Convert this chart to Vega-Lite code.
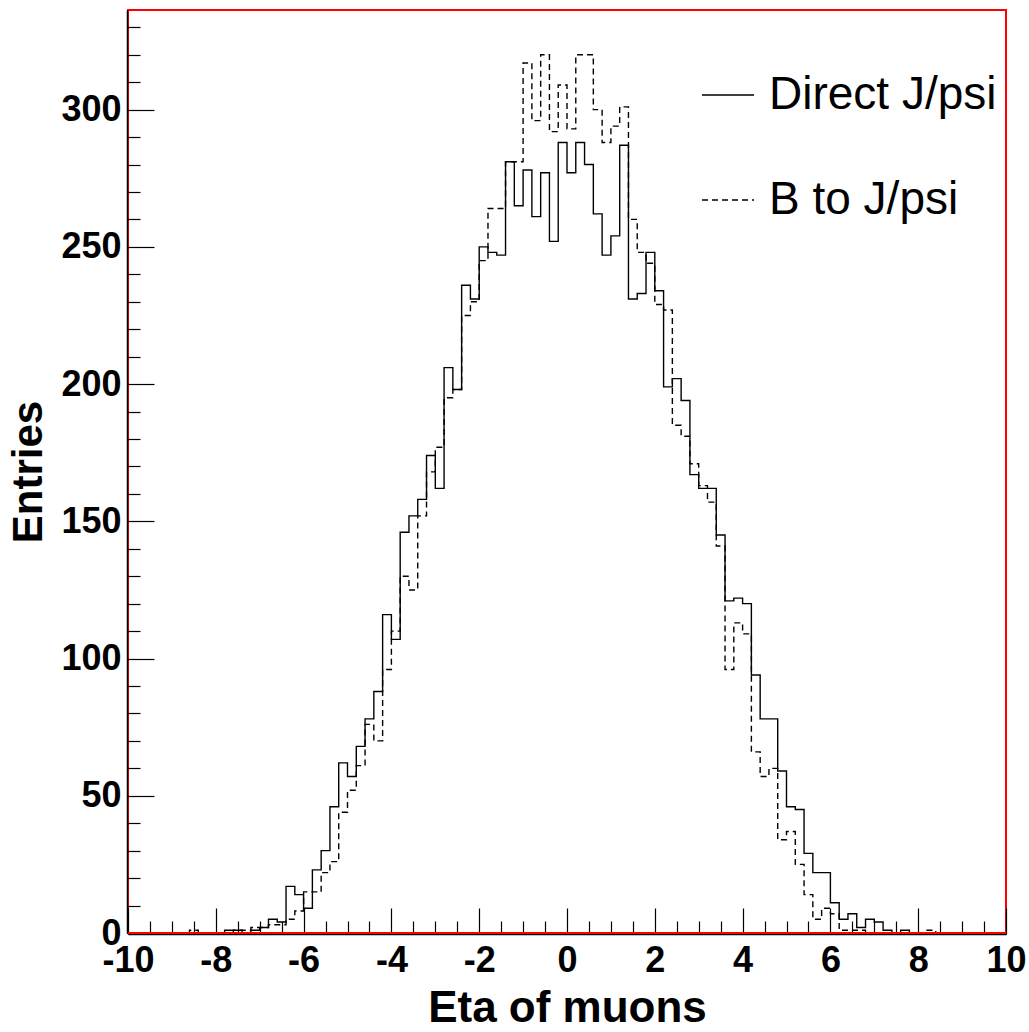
{
  "$schema": "https://vega.github.io/schema/vega-lite/v6.json",
  "width": 878,
  "height": 923,
  "autosize": {"type": "none"},
  "padding": {"left": 128, "top": 10, "right": 23, "bottom": 99},
  "background": "white",
  "data": {
    "values": [
      {"eta": -10.0, "d": 0, "b": 0}, {"eta": -9.8, "d": 0, "b": 0}, {"eta": -9.6, "d": 0, "b": 0},
      {"eta": -9.4, "d": 0, "b": 0}, {"eta": -9.2, "d": 0, "b": 0}, {"eta": -9.0, "d": 0, "b": 0},
      {"eta": -8.8, "d": 0, "b": 0}, {"eta": -8.6, "d": 0, "b": 1}, {"eta": -8.4, "d": 0, "b": 0},
      {"eta": -8.2, "d": 0, "b": 0}, {"eta": -8.0, "d": 0, "b": 0}, {"eta": -7.8, "d": 1, "b": 0},
      {"eta": -7.6, "d": 1, "b": 1}, {"eta": -7.4, "d": 0, "b": 1}, {"eta": -7.2, "d": 1, "b": 2},
      {"eta": -7.0, "d": 2, "b": 2}, {"eta": -6.8, "d": 5, "b": 3}, {"eta": -6.6, "d": 4, "b": 3},
      {"eta": -6.4, "d": 17, "b": 5}, {"eta": -6.2, "d": 14, "b": 8}, {"eta": -6.0, "d": 9, "b": 15},
      {"eta": -5.8, "d": 23, "b": 15}, {"eta": -5.6, "d": 30, "b": 22}, {"eta": -5.4, "d": 46, "b": 26},
      {"eta": -5.2, "d": 62, "b": 44}, {"eta": -5.0, "d": 57, "b": 52}, {"eta": -4.8, "d": 68, "b": 61},
      {"eta": -4.6, "d": 78, "b": 76}, {"eta": -4.4, "d": 88, "b": 70}, {"eta": -4.2, "d": 116, "b": 96},
      {"eta": -4.0, "d": 107, "b": 110}, {"eta": -3.8, "d": 146, "b": 130}, {"eta": -3.6, "d": 152, "b": 125},
      {"eta": -3.4, "d": 158, "b": 152}, {"eta": -3.2, "d": 174, "b": 168}, {"eta": -3.0, "d": 162, "b": 177},
      {"eta": -2.8, "d": 206, "b": 195}, {"eta": -2.6, "d": 198, "b": 198}, {"eta": -2.4, "d": 236, "b": 225},
      {"eta": -2.2, "d": 231, "b": 230}, {"eta": -2.0, "d": 250, "b": 245}, {"eta": -1.8, "d": 248, "b": 264},
      {"eta": -1.6, "d": 247, "b": 264}, {"eta": -1.4, "d": 281, "b": 281}, {"eta": -1.2, "d": 265, "b": 281},
      {"eta": -1.0, "d": 278, "b": 317}, {"eta": -0.8, "d": 261, "b": 296}, {"eta": -0.6, "d": 277, "b": 320},
      {"eta": -0.4, "d": 252, "b": 292}, {"eta": -0.2, "d": 288, "b": 309}, {"eta": 0.0, "d": 277, "b": 293},
      {"eta": 0.2, "d": 288, "b": 320}, {"eta": 0.4, "d": 280, "b": 320}, {"eta": 0.6, "d": 262, "b": 300},
      {"eta": 0.8, "d": 247, "b": 288}, {"eta": 1.0, "d": 254, "b": 294}, {"eta": 1.2, "d": 287, "b": 301},
      {"eta": 1.4, "d": 231, "b": 260}, {"eta": 1.6, "d": 233, "b": 248}, {"eta": 1.8, "d": 248, "b": 244},
      {"eta": 2.0, "d": 234, "b": 229}, {"eta": 2.2, "d": 199, "b": 227}, {"eta": 2.4, "d": 202, "b": 185},
      {"eta": 2.6, "d": 194, "b": 181}, {"eta": 2.8, "d": 167, "b": 171}, {"eta": 3.0, "d": 162, "b": 163},
      {"eta": 3.2, "d": 162, "b": 157}, {"eta": 3.4, "d": 145, "b": 141}, {"eta": 3.6, "d": 121, "b": 96},
      {"eta": 3.8, "d": 122, "b": 113}, {"eta": 4.0, "d": 120, "b": 109}, {"eta": 4.2, "d": 94, "b": 66},
      {"eta": 4.4, "d": 78, "b": 57}, {"eta": 4.6, "d": 78, "b": 60}, {"eta": 4.8, "d": 59, "b": 34},
      {"eta": 5.0, "d": 46, "b": 37}, {"eta": 5.2, "d": 45, "b": 25}, {"eta": 5.4, "d": 29, "b": 14},
      {"eta": 5.6, "d": 22, "b": 5}, {"eta": 5.8, "d": 22, "b": 9}, {"eta": 6.0, "d": 11, "b": 7},
      {"eta": 6.2, "d": 5, "b": 1}, {"eta": 6.4, "d": 7, "b": 1}, {"eta": 6.6, "d": 2, "b": 1},
      {"eta": 6.8, "d": 5, "b": 0}, {"eta": 7.0, "d": 4, "b": 0}, {"eta": 7.2, "d": 1, "b": 0},
      {"eta": 7.4, "d": 0, "b": 0}, {"eta": 7.6, "d": 1, "b": 0}, {"eta": 7.8, "d": 0, "b": 0},
      {"eta": 8.0, "d": 0, "b": 0}, {"eta": 8.2, "d": 0, "b": 1}, {"eta": 8.4, "d": 0, "b": 0},
      {"eta": 8.6, "d": 0, "b": 0}, {"eta": 8.8, "d": 0, "b": 0}, {"eta": 9.0, "d": 0, "b": 0},
      {"eta": 9.2, "d": 0, "b": 0}, {"eta": 9.4, "d": 0, "b": 0}, {"eta": 9.6, "d": 0, "b": 0},
      {"eta": 9.8, "d": 0, "b": 0}, {"eta": 10.0, "d": 0, "b": 0}
    ]
  },
  "layer": [
    {
      "transform": [{"fold": ["d", "b"], "as": ["series", "n"]}],
      "mark": {"type": "line", "interpolate": "step-after", "color": "black", "strokeWidth": 1.4},
      "encoding": {
        "x": {
          "field": "eta", "type": "quantitative",
          "scale": {"domain": [-10, 10], "nice": false, "zero": false},
          "axis": {
            "orient": "bottom", "offset": 1,
            "values": [-10, -8, -6, -4, -2, 0, 2, 4, 6, 8, 10],
            "labelExpr": "toString(datum.value)",
            "tickSize": -26, "labelPadding": 35, "labelFlush": false, "labelOverlap": false,
            "title": "Eta of muons", "titlePadding": 8, "titleFontSize": 44
          }
        },
        "y": {
          "field": "n", "type": "quantitative",
          "scale": {"domain": [0, 336.3], "nice": false},
          "axis": {
            "orient": "left", "offset": 1,
            "values": [0, 50, 100, 150, 200, 250, 300],
            "tickSize": -27, "labelPadding": 33, "labelOverlap": false,
            "title": "Entries", "titlePadding": 10
          }
        },
        "strokeDash": {
          "field": "series", "type": "nominal",
          "scale": {"domain": ["d", "b"], "range": [[1, 0], [6, 4]]},
          "legend": {
            "orient": "none", "legendX": 573, "legendY": 58, "title": null,
            "symbolType": "stroke", "symbolSize": 2704, "symbolStrokeWidth": 1.4,
            "symbolStrokeColor": "black", "labelFont": "Liberation Sans",
            "labelFontSize": 46, "labelFontWeight": "normal", "labelColor": "black",
            "labelOffset": 14, "labelLimit": 500, "rowPadding": 55, "padding": 0,
            "labelExpr": "datum.value == 'd' ? 'Direct J/psi' : 'B to J/psi'"
          }
        }
      }
    },
    {
      "mark": {"type": "rule", "color": "#ff0000", "strokeWidth": 2},
      "encoding": {
        "x": {
          "datum": -10,
          "axis": {
            "orient": "bottom", "offset": 1,
            "values": [-9.5, -9, -8.5, -7.5, -7, -6.5, -5.5, -5, -4.5, -3.5, -3, -2.5, -1.5, -1, -0.5, 0.5, 1, 1.5, 2.5, 3, 3.5, 4.5, 5, 5.5, 6.5, 7, 7.5, 8.5, 9, 9.5],
            "tickSize": -13, "labels": false, "domain": false, "title": null
          }
        },
        "x2": {"datum": 10},
        "y": {
          "datum": 0,
          "axis": {
            "orient": "left", "offset": 1,
            "values": [10, 20, 30, 40, 60, 70, 80, 90, 110, 120, 130, 140, 160, 170, 180, 190, 210, 220, 230, 240, 260, 270, 280, 290, 310, 320, 330],
            "tickSize": -13, "labels": false, "domain": false, "title": null
          }
        }
      }
    }
  ],
  "resolve": {
    "scale": {"x": "shared", "y": "shared"},
    "axis": {"x": "independent", "y": "independent"}
  },
  "config": {
    "view": {"stroke": "#ff0000", "strokeWidth": 2},
    "axis": {
      "domainColor": "black", "domainWidth": 1.5,
      "tickColor": "black", "tickWidth": 1.2,
      "grid": false,
      "labelFont": "Liberation Sans", "labelFontSize": 36, "labelFontWeight": "bold", "labelColor": "black",
      "titleFont": "Liberation Sans", "titleFontSize": 42, "titleFontWeight": "bold", "titleColor": "black"
    }
  }
}
